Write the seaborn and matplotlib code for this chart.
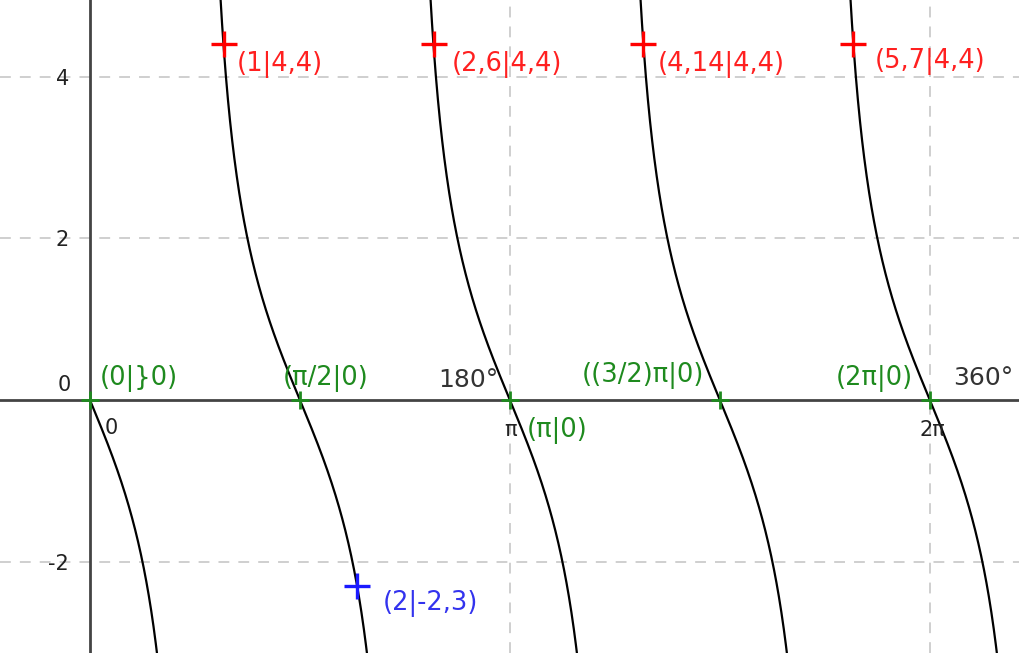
import numpy as np
import pandas as pd
import matplotlib
matplotlib.use('Agg')
import matplotlib.pyplot as plt
import seaborn as sns

# curve f(x) = a * tan(b * x), read from the labelled points, drawn for x >= 0
amp = -2
freq = 2

# zeros (green)
zero_x = [0, np.pi / 2, np.pi, 3 * np.pi / 2, 2 * np.pi]
zero_y = [0, 0, 0, 0, 0]
zero_labels = ['(0|}0)', '(π/2|0)', '(π|0)', '((3/2)π|0)', '(2π|0)']

# red points
red_x = [1, 2.57, 4.14, 5.71]
red_y = [4.4, 4.4, 4.4, 4.4]
red_labels = ['(1|4,4)', '(2,6|4,4)', '(4,14|4,4)', '(5,7|4,4)']

# blue point
blue_x = [2]
blue_y = [-2.3]
blue_labels = ['(2|-2,3)']

ytick_vals = [-2, 0, 2, 4]
ytick_labels = ['-2', '0', '2', '4']
xtick_vals = [0, np.pi, 2 * np.pi]
xtick_labels = ['0', 'π', '2π']
deg_labels = ['180°', '360°']

x_min, x_max = -0.673, 6.95
y_min, y_max = -3.13, 4.95

sns.set_style('white')
plt.rcParams['font.family'] = ['DejaVu Sans']

# build the branches between asymptotes
rows = []
for k in range(0, 6):
    a = np.pi / 4 + (k - 1) * np.pi / 2
    b = a + np.pi / 2
    xs = np.linspace(max(a + 1e-3, 0), b - 1e-3, 600)
    ys = amp * np.tan(freq * xs)
    keep = (xs < x_max + 0.1) & (np.abs(ys) < 8)
    for xv, yv in zip(xs[keep], ys[keep]):
        rows.append({'x': xv, 'y': yv, 'branch': k})
curve = pd.DataFrame(rows)

fig = plt.figure(figsize=(10.19, 6.53), dpi=100)
ax = fig.add_axes([0, 0, 1, 1])
ax.set_xlim(x_min, x_max)
ax.set_ylim(y_min, y_max)

# dashed grid
for gx in [np.pi, 2 * np.pi]:
    ax.axvline(gx, color='#cccccc', lw=1.3, dashes=(6, 5), zorder=0)
for gy in [-2, 2, 4]:
    ax.axhline(gy, color='#cccccc', lw=1.3, dashes=(6, 5), zorder=0)

# axes through origin
for side in ['top', 'right']:
    ax.spines[side].set_visible(False)
ax.spines['left'].set_position(('data', 0))
ax.spines['bottom'].set_position(('data', 0))
for side in ['left', 'bottom']:
    ax.spines[side].set_color('#444444')
    ax.spines[side].set_linewidth(2)
    ax.spines[side].set_zorder(1)

ax.set_yticks([v for v in ytick_vals if v != 0])
ax.set_yticklabels([l for v, l in zip(ytick_vals, ytick_labels) if v != 0])
ax.tick_params(axis='y', length=6, width=1.3, color='#444444', pad=9,
               labelsize=15, labelcolor='#222222', direction='out')
ax.set_xticks(xtick_vals[1:])
ax.set_xticklabels([])
ax.tick_params(axis='x', length=0)

sns.lineplot(data=curve, x='x', y='y', units='branch', estimator=None,
             color='black', lw=1.6, ax=ax, legend=False, sort=False, zorder=3)
ax.set_xlabel('')
ax.set_ylabel('')


def px(xp, yp):
    return (xp - 90) / 133.7, (400 - yp) / 80.75


# axis text
ax.text(*px(64, 385), '0', fontsize=15, color='#222222', ha='center', va='center')
ax.text(*px(111, 428), xtick_labels[0], fontsize=15, color='#222222', ha='center', va='center')
ax.text(*px(511, 430), xtick_labels[1], fontsize=15, color='#222222', ha='center', va='center')
ax.text(*px(933, 430), xtick_labels[2], fontsize=15, color='#222222', ha='center', va='center')
ax.text(*px(468, 380), deg_labels[0], fontsize=18, color='#333333', ha='center', va='center')
ax.text(*px(983, 378), deg_labels[1], fontsize=18, color='#333333', ha='center', va='center')

# points
green = '#1e8a1e'
sns.scatterplot(x=zero_x, y=zero_y, marker='+', s=160, color=green,
                linewidth=2, ax=ax, zorder=5)
sns.scatterplot(x=red_x, y=red_y, marker='+', s=330, color='#ff0000',
                linewidth=2.4, ax=ax, zorder=5)
sns.scatterplot(x=blue_x, y=blue_y, marker='+', s=330, color='#1a1aff',
                linewidth=2.4, ax=ax, zorder=5)

zero_pos = [(100, 378), (283, 378), (527, 430), (582, 375), (836, 378)]
for (xp, yp), lab in zip(zero_pos, zero_labels):
    ax.text(*px(xp, yp), lab, fontsize=18.5, color=green, ha='left', va='center')

red_pos = [(237, 65), (452, 65), (658, 65), (875, 62)]
for (xp, yp), lab in zip(red_pos, red_labels):
    ax.text(*px(xp, yp), lab, fontsize=18.5, color='#ff2020', ha='left', va='center')

ax.text(*px(383, 603), blue_labels[0], fontsize=18.5, color='#3333ee', ha='left', va='center')

fig.savefig('out.png', dpi=100)
